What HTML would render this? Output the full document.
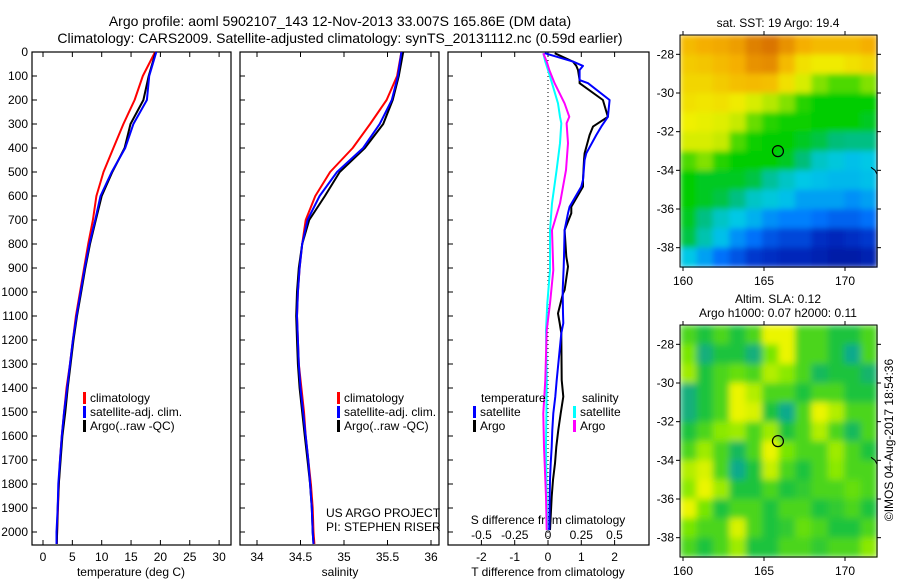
<!DOCTYPE html>
<html><head><meta charset="utf-8">
<style>
html,body{margin:0;padding:0;background:#fff;}
svg{display:block;font-family:"Liberation Sans","DejaVu Sans",sans-serif;}
</style></head>
<body>
<svg id="fig" width="900" height="580" viewBox="0 0 900 580" xmlns="http://www.w3.org/2000/svg">
<defs>
<filter id="blurSST" x="0" y="0" width="1" height="1"><feGaussianBlur stdDeviation="3" edgeMode="duplicate"/></filter>
<filter id="blurSLA" x="0" y="0" width="1" height="1"><feGaussianBlur stdDeviation="3.5" edgeMode="duplicate"/></filter>
</defs>
<rect width="900" height="580" fill="#fff"/>
<text x="340" y="26" font-size="14" text-anchor="middle">Argo profile: aoml 5902107_143 12-Nov-2013 33.007S 165.86E (DM data)</text>
<text x="340" y="43" font-size="14" text-anchor="middle">Climatology: CARS2009. Satellite-adjusted climatology: synTS_20131112.nc (0.59d earlier)</text>
<g id="plots"></g>
</svg>
<script>
// ---- profile data ----
const depths = [0,100,200,300,400,500,600,700,800,900,1000,1100,1200,1300,1400,1500,1600,1700,1800,1900,2000,2050];
const tempClim = [19.1,17.0,15.6,13.7,12.0,10.3,9.1,8.5,7.7,7.0,6.3,5.6,5.1,4.6,4.0,3.6,3.2,2.9,2.7,2.55,2.4,2.35];
const tempSat  = [19.3,18.1,17.7,15.4,14.0,11.7,9.8,8.9,7.9,7.1,6.4,5.7,5.1,4.6,4.1,3.6,3.2,2.9,2.6,2.5,2.3,2.3];
const tempArgo = [19.2,18.0,17.1,14.9,13.9,11.8,10.0,9.0,8.0,7.2,6.5,5.8,5.2,4.7,4.2,3.8,3.3,3.0,2.7,2.5,2.4,2.35];
const salClim = [35.66,35.61,35.49,35.30,35.10,34.84,34.67,34.56,34.52,34.49,34.47,34.46,34.47,34.48,34.51,34.54,34.56,34.59,34.62,34.64,34.65,34.66];
const salSat  = [35.66,35.62,35.55,35.41,35.22,34.92,34.72,34.58,34.52,34.49,34.47,34.46,34.47,34.48,34.50,34.53,34.56,34.59,34.61,34.63,34.64,34.65];
const salArgo = [35.68,35.63,35.56,35.45,35.24,34.95,34.78,34.60,34.52,34.48,34.46,34.45,34.46,34.47,34.49,34.52,34.55,34.58,34.61,34.63,34.64,34.65];
// ---- difference data ----
const diffDepthsT = [5,40,58,75,117,130,200,270,311,346,422,450,533,561,645,672,742,853,894,992,1006,1089,1130,1172,1367,1436,1506,1575,1645,1714,1783,1853,1992];
const diffTSat  = [-0.1,0.75,1.05,0.95,0.95,1.2,1.85,1.8,1.6,1.45,1.15,1.1,1.05,1.0,0.65,0.6,0.5,0.48,0.47,0.44,0.44,0.45,0.46,0.4,0.26,0.22,0.16,0.13,0.11,0.08,0.06,0.05,0.04];
const diffTArgo = [0.2,0.75,0.85,0.9,0.95,0.95,1.65,1.8,1.35,1.25,1.1,1.08,1.05,1.05,0.7,0.7,0.5,0.55,0.6,0.5,0.45,0.3,0.35,0.4,0.41,0.46,0.38,0.31,0.25,0.21,0.15,0.11,0.06];
const diffDepthsS = [5,40,75,130,214,270,297,380,492,631,742,909,1048,1160,1367,1506,1645,1853,1992];
const diffSSat  = [-0.035,-0.02,0,0.03,0.075,0.09,0.1,0.09,0.065,0.03,0.015,0.015,-0.005,-0.015,-0.01,-0.012,-0.015,-0.01,-0.005];
const diffSArgo = [-0.035,-0.01,0.01,0.05,0.125,0.16,0.14,0.15,0.135,0.09,0.03,0.04,0.015,-0.01,-0.02,-0.035,-0.03,-0.015,-0.01];
// ---- tick labels ----
const depthTicks = [0,100,200,300,400,500,600,700,800,900,1000,1100,1200,1300,1400,1500,1600,1700,1800,1900,2000];
const tempTicks = [0,5,10,15,20,25,30];
const salTicks = [34,34.5,35,35.5,36];
const tdTicks = [-2,-1,0,1,2];
const sdTicks = [-0.5,-0.25,0,0.25,0.5];
const sdTickLabels = ["-0.5","-0.25","0","0.25","0.5"];
const latTicks = [-28,-30,-32,-34,-36,-38];
const lonTicks = [160,165,170];
// ---- map grids (rows lat -27.5 .. -38.5, cols lon 160..172) ----
const sstGrid = [
[0.85,0.87,0.88,0.9,0.95,0.97,0.92,0.87,0.85,0.85,0.85,0.87],
[0.82,0.83,0.85,0.87,0.92,0.93,0.85,0.78,0.76,0.76,0.78,0.8],
[0.8,0.8,0.82,0.84,0.85,0.84,0.78,0.72,0.62,0.58,0.58,0.62],
[0.78,0.77,0.78,0.76,0.72,0.68,0.62,0.55,0.52,0.52,0.52,0.52],
[0.75,0.74,0.73,0.7,0.6,0.55,0.53,0.53,0.52,0.52,0.52,0.5],
[0.72,0.72,0.7,0.58,0.53,0.52,0.52,0.5,0.48,0.45,0.44,0.44],
[0.58,0.62,0.55,0.52,0.52,0.52,0.5,0.45,0.38,0.36,0.34,0.35],
[0.52,0.5,0.5,0.5,0.48,0.42,0.38,0.35,0.34,0.33,0.33,0.34],
[0.52,0.5,0.48,0.44,0.38,0.36,0.34,0.3,0.3,0.3,0.28,0.3],
[0.5,0.44,0.38,0.35,0.32,0.28,0.26,0.26,0.24,0.22,0.22,0.24],
[0.48,0.4,0.34,0.28,0.24,0.2,0.18,0.18,0.14,0.12,0.14,0.16],
[0.35,0.3,0.24,0.2,0.16,0.14,0.12,0.12,0.1,0.08,0.08,0.1]];
const slaGrid = [
[0.55,0.5,0.55,0.5,0.55,0.72,0.74,0.55,0.55,0.5,0.5,0.55],
[0.6,0.42,0.5,0.5,0.42,0.6,0.72,0.55,0.55,0.5,0.4,0.55],
[0.64,0.5,0.55,0.58,0.55,0.66,0.62,0.55,0.46,0.5,0.5,0.44],
[0.42,0.5,0.55,0.74,0.66,0.55,0.55,0.5,0.55,0.55,0.5,0.5],
[0.42,0.5,0.55,0.74,0.7,0.5,0.4,0.55,0.76,0.66,0.55,0.55],
[0.5,0.55,0.62,0.64,0.55,0.64,0.5,0.55,0.66,0.55,0.46,0.55],
[0.55,0.64,0.55,0.46,0.55,0.76,0.6,0.55,0.55,0.64,0.55,0.5],
[0.66,0.7,0.55,0.4,0.5,0.68,0.55,0.5,0.55,0.62,0.55,0.55],
[0.62,0.76,0.64,0.5,0.5,0.55,0.5,0.52,0.55,0.55,0.58,0.55],
[0.74,0.6,0.5,0.55,0.55,0.5,0.55,0.55,0.5,0.52,0.55,0.5],
[0.6,0.55,0.55,0.7,0.55,0.5,0.52,0.58,0.55,0.5,0.5,0.55],
[0.55,0.5,0.55,0.64,0.5,0.5,0.55,0.55,0.52,0.55,0.55,0.62]];

const NS="http://www.w3.org/2000/svg";
const root=document.getElementById('plots');
function el(tag,attrs,parent,txt){const e=document.createElementNS(NS,tag);for(const k in attrs)e.setAttribute(k,attrs[k]);if(txt!==undefined)e.textContent=txt;(parent||root).appendChild(e);return e;}

const yTop=52, yBot=545;
const yD=d=>52+d*0.24;
const xT=t=>43+t*5.87;
const xS=s=>257+(s-34)*87;
const xTD=t=>548+t*33.3;
const xSD=s=>548+s*133;

function frame(x0,x1,name){
  const r=el('rect',{x:x0,y:yTop,width:x1-x0,height:yBot-yTop,fill:'none',stroke:'#000','stroke-width':1.2});
  
  
}
function xTicks(ticks,labels,fx,x0,name,yl){
  const g=el('g',{});
  
  
  ticks.forEach((t,i)=>{const x=fx(t);
    el('line',{x1:x,x2:x,y1:yBot,y2:yBot-5,stroke:'#000'},g);
    el('line',{x1:x,x2:x,y1:yTop,y2:yTop+5,stroke:'#000'},g);
    el('text',{x:x,y:yl,'font-size':12,'text-anchor':'middle'},g,labels[i]);});
}
function line(fx,vals,ds,color,name,w){
  const pts=vals.map((v,i)=>fx(v).toFixed(1)+','+yD(ds[i]).toFixed(1)).join(' ');
  const p=el('polyline',{points:pts,fill:'none',stroke:color,'stroke-width':w||2,'stroke-linejoin':'round'});
  
  
}
function legendEntry(x,y,color,label,name){
  const g=el('g',{});
  
  
  el('rect',{x:x,y:y-10,width:3,height:12,fill:color},g);
  el('text',{x:x+7,y:y,'font-size':12},g,label);
}

// Panel 1
frame(32,231,'temperature-panel');
const yax=el('g',{});


depthTicks.forEach(d=>{const y=yD(d);
  el('line',{x1:32,x2:37,y1:y,y2:y,stroke:'#000'},yax);
  el('line',{x1:240,x2:245,y1:y,y2:y,stroke:'#000'},yax);
  el('line',{x1:448,x2:453,y1:y,y2:y,stroke:'#000'},yax);
  el('text',{x:28,y:y+4,'font-size':12,'text-anchor':'end'},yax,String(d));});
xTicks(tempTicks,tempTicks.map(String),xT,32,'temperature-x-axis',561);
el('text',{x:131,y:576,'font-size':12,'text-anchor':'middle'},null,'temperature (deg C)');
line(xT,tempClim,depths,'#f00','temp-climatology-line');
line(xT,tempArgo,depths,'#000','temp-argo-line');
line(xT,tempSat,depths,'#00f','temp-satellite-line');
legendEntry(83,402,'#f00','climatology','legend-climatology-t');
legendEntry(83,416,'#00f','satellite-adj. clim.','legend-satellite-t');
legendEntry(83,430,'#000','Argo(..raw -QC)','legend-argo-t');

// Panel 2
frame(240,439,'salinity-panel');
xTicks(salTicks,salTicks.map(String),xS,240,'salinity-x-axis',561);
el('text',{x:340,y:576,'font-size':12,'text-anchor':'middle'},null,'salinity');
line(xS,salClim,depths,'#f00','sal-climatology-line');
line(xS,salArgo,depths,'#000','sal-argo-line');
line(xS,salSat,depths,'#00f','sal-satellite-line');
legendEntry(337,402,'#f00','climatology','legend-climatology-s');
legendEntry(337,416,'#00f','satellite-adj. clim.','legend-satellite-s');
legendEntry(337,430,'#000','Argo(..raw -QC)','legend-argo-s');
el('text',{x:326,y:517,'font-size':12},null,'US ARGO PROJECT');
el('text',{x:326,y:531,'font-size':12},null,'PI: STEPHEN RISER');

// Panel 3
frame(448,649,'difference-panel');
el('line',{x1:548,x2:548,y1:yTop,y2:yBot,stroke:'#000','stroke-dasharray':'1,3'});
xTicks(tdTicks,tdTicks.map(String),xTD,448,'t-difference-axis',561);
const sdg=el('g',{});


sdTicks.forEach((s,i)=>el('text',{x:xSD(s),y:539,'font-size':12,'text-anchor':'middle'},sdg,sdTickLabels[i]));
el('text',{x:548,y:524,'font-size':12,'text-anchor':'middle'},null,'S difference from climatology');
el('text',{x:548,y:576,'font-size':12,'text-anchor':'middle'},null,'T difference from climatology');
line(xSD,diffSSat,diffDepthsS,'#0ff','s-diff-satellite-line');
line(xSD,diffSArgo,diffDepthsS,'#f0f','s-diff-argo-line');
line(xTD,diffTArgo,diffDepthsT,'#000','t-diff-argo-line');
line(xTD,diffTSat,diffDepthsT,'#00f','t-diff-satellite-line');
el('text',{x:481,y:402,'font-size':12},null,'temperature');
el('text',{x:582,y:402,'font-size':12},null,'salinity');
legendEntry(473,416,'#00f','satellite','legend-t-satellite');
legendEntry(473,430,'#000','Argo','legend-t-argo');
legendEntry(573,416,'#0ff','satellite','legend-s-satellite');
legendEntry(573,430,'#f0f','Argo','legend-s-argo');

// Maps
const cmSST=[[0,[0,0,130]],[0.15,[0,50,200]],[0.25,[0,120,255]],[0.35,[0,200,230]],[0.45,[0,190,120]],[0.52,[0,205,0]],[0.62,[130,225,0]],[0.75,[240,240,0]],[0.87,[245,175,0]],[1,[210,100,0]]];
const cmSLA=[[0.4,[16,170,140]],[0.5,[30,195,60]],[0.6,[120,230,0]],[0.72,[235,245,0]]];
function cmap(cm,v){if(v<=cm[0][0])return cm[0][1];for(let i=1;i<cm.length;i++){if(v<=cm[i][0]){const a=cm[i-1],b=cm[i],f=(v-a[0])/(b[0]-a[0]);return a[1].map((c,k)=>Math.round(c+(b[1][k]-c)*f));}}return cm[cm.length-1][1];}
function map(y0,y1,grid,cm,name,tLines,filt){
  const x0=680,x1=877;
  const lonX=l=>683+(l-160)*16.2;
  const latY=la=>y0+(( -27-la)/12)*(y1-y0);
  const g=el('g',{});
  
  
  const cells=el('g',{filter:'url(#'+filt+')'},g);
  grid.forEach((row,r)=>row.forEach((v,c)=>{
    const xa=x0+c*(x1-x0)/12, ya=y0+r*(y1-y0)/12;
    const col=cmap(cm,v);
    el('rect',{x:xa.toFixed(1),y:ya.toFixed(1),width:((x1-x0)/12+0.6).toFixed(1),height:((y1-y0)/12+0.6).toFixed(1),fill:'rgb('+col.join(',')+')'},cells);
  }));
  el('rect',{x:x0,y:y0,width:x1-x0,height:y1-y0,fill:'none',stroke:'#000'},g);
  latTicks.forEach(la=>{const y=latY(la);
    el('line',{x1:x0,x2:x0-4,y1:y,y2:y,stroke:'#000'},g);
    el('line',{x1:x1,x2:x1+4,y1:y,y2:y,stroke:'#000'},g);
    el('text',{x:x0-6,y:y+4,'font-size':12,'text-anchor':'end'},g,String(la));});
  lonTicks.forEach(l=>{const x=lonX(l);
    el('line',{x1:x,x2:x,y1:y0,y2:y0-4,stroke:'#000'},g);
    el('line',{x1:x,x2:x,y1:y1,y2:y1+4,stroke:'#000'},g);
    el('text',{x:x,y:y1+18,'font-size':12,'text-anchor':'middle'},g,String(l));});
  const c=el('circle',{cx:lonX(165.86),cy:latY(-33.007),r:5.5,fill:'none',stroke:'#000','stroke-width':1.2});
  
  
  el('polyline',{points:(x1-6)+','+(latY(-34)-3)+' '+(x1-2)+','+latY(-34)+' '+x1+','+(latY(-34)+4),fill:'none',stroke:'#000'},g);
  tLines.forEach((t,i)=>el('text',{x:778,y:y0-8-14*(tLines.length-1-i),'font-size':12,'text-anchor':'middle'},g,t));
}
map(35,267,sstGrid,cmSST,'sst-map',['sat. SST: 19 Argo: 19.4'],'blurSST');
map(325,557,slaGrid,cmSLA,'sla-map',['Altim. SLA: 0.12','Argo h1000: 0.07 h2000: 0.11'],'blurSLA');
const stamp=el('text',{x:0,y:0,'font-size':12,'text-anchor':'middle',transform:'translate(893,440) rotate(-90)'},null,'©IMOS 04-Aug-2017 18:54:36');


</script>
</body></html>
